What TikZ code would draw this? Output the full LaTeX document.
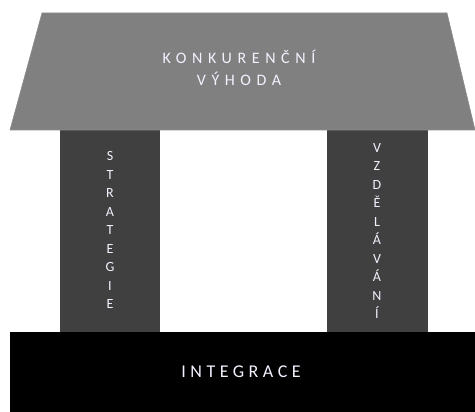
\documentclass[tikz,border=0pt]{standalone}
\usepackage{fontspec}
\setmainfont{Carlito}
\begin{document}
\begin{tikzpicture}[x=1pt,y=-1pt,
  label text/.style={text=white!95!blue, inner sep=0pt},
  roof/.style={fill=black!50, draw=black!45, line width=0.6pt},
  pillar/.style={fill=black!75},
  base/.style={fill=black}]
  % canvas
  \fill[white] (0,0) rectangle (475,412);
  \useasboundingbox (0,0) rectangle (475,412);
  % pillars
  \fill[pillar] (60,128) rectangle (160,334);
  \fill[pillar] (327,128) rectangle (428,334);
  % base
  \fill[base] (10,332) rectangle (475,412);
  % roof
  \path[roof] (42,13) -- (447,13) -- (475,130) -- (10,130) -- cycle;
  % texts
  \node[label text, font=\fontsize{16}{22}\selectfont\addfontfeature{LetterSpace=35}, align=center]
    (roofText) at (239,68) {KONKURENČNÍ\\VÝHODA};
  \node[label text, font=\fontsize{14}{18.5}\selectfont, align=center]
    (leftText) at (110,230) {S\\T\\R\\A\\T\\E\\G\\I\\E};
  \node[label text, font=\fontsize{14}{18.5}\selectfont, align=center]
    (rightText) at (377,231) {V\\Z\\D\\Ě\\L\\Á\\V\\Á\\N\\Í};
  \node[label text, font=\fontsize{18}{20}\selectfont\addfontfeature{LetterSpace=25}]
    (baseText) at (241,372) {INTEGRACE};
\end{tikzpicture}
\end{document}
